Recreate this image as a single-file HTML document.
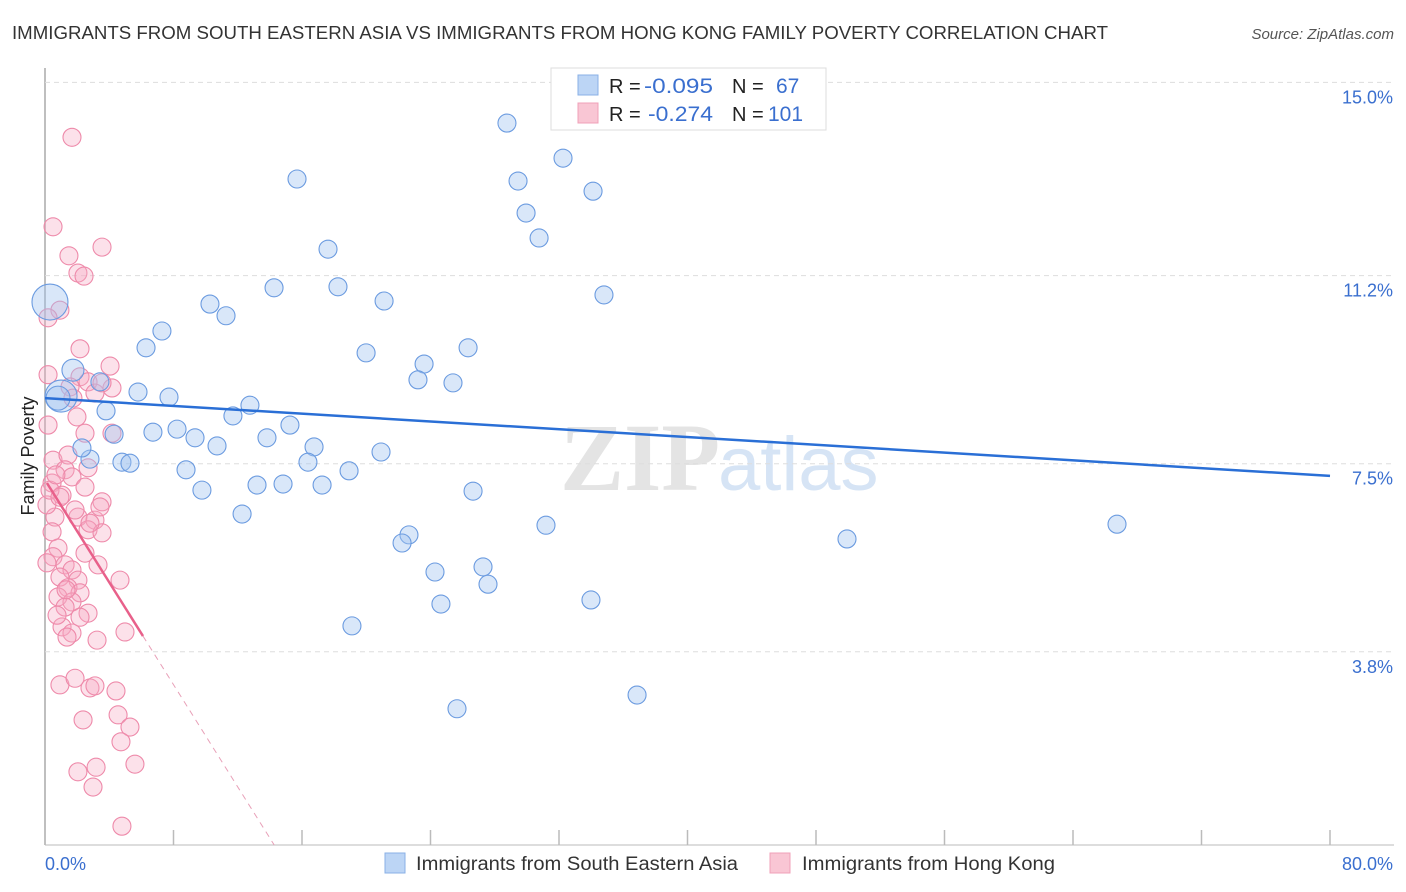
<!DOCTYPE html>
<html><head><meta charset="utf-8"><style>
body{margin:0;background:#fff;font-family:"Liberation Sans",sans-serif}
svg{display:block}
</style></head><body>
<svg id="chart" width="1406" height="892">
<text x="12" y="39" font-size="18" fill="#333" textLength="1096" lengthAdjust="spacingAndGlyphs">IMMIGRANTS FROM SOUTH EASTERN ASIA VS IMMIGRANTS FROM HONG KONG FAMILY POVERTY CORRELATION CHART</text>
<text x="1394" y="39" font-size="15" font-style="italic" fill="#555" text-anchor="end">Source: ZipAtlas.com</text>
<text x="720" y="490" font-size="96" font-family="Liberation Serif" fill="#e4e4e4" text-anchor="end" font-weight="bold">ZIP</text>
<text x="718" y="490" font-size="76" fill="#d6e4f5">atlas</text>
<text transform="translate(34,456) rotate(-90)" font-size="18" fill="#222" text-anchor="middle">Family Poverty</text>
<g id="grid"></g><g id="pts"></g><g id="trend"></g>
<g>
<rect x="551" y="68" width="275" height="62" fill="#fff" stroke="#ddd"/>
<rect x="578" y="75" width="20" height="20" fill="#bcd5f5" stroke="#8ab0e6"/>
<rect x="578" y="103" width="20" height="20" fill="#f9c6d4" stroke="#f0a0b8"/>
<text x="609" y="93" font-size="20" fill="#222">R =</text><text x="644" y="93" font-size="21" fill="#3a6fcf" textLength="69" lengthAdjust="spacingAndGlyphs">-0.095</text>
<text x="732" y="93" font-size="20" fill="#222">N =</text><text x="776" y="93" font-size="21" fill="#3a6fcf">67</text>
<text x="609" y="121" font-size="20" fill="#222">R =</text><text x="648" y="121" font-size="21" fill="#3a6fcf" textLength="65" lengthAdjust="spacingAndGlyphs">-0.274</text>
<text x="732" y="121" font-size="20" fill="#222">N =</text><text x="768" y="121" font-size="21" fill="#3a6fcf">101</text>
</g>
<g>
<rect x="385" y="853" width="20" height="20" fill="#bcd5f5" stroke="#8ab0e6"/>
<text x="416" y="870" font-size="19" fill="#333" textLength="322" lengthAdjust="spacingAndGlyphs">Immigrants from South Eastern Asia</text>
<rect x="770" y="853" width="20" height="20" fill="#f9c6d4" stroke="#f0a0b8"/>
<text x="802" y="870" font-size="19" fill="#333" textLength="253" lengthAdjust="spacingAndGlyphs">Immigrants from Hong Kong</text>
</g>
</svg>
<script>
const yTicks=[15.0,11.2,7.5,3.8];
const yTickLabels=["15.0%","11.2%","7.5%","3.8%"];
const xTickLabels=["0.0%","80.0%"];
const blueX=[28.76,32.25,15.69,29.45,34.12,29.95,30.76,17.62,14.26,18.24,10.27,21.11,34.80,11.27,7.28,6.29,19.99,26.34,23.60,23.22,25.40,5.79,7.72,12.76,3.80,11.70,15.25,6.72,8.22,4.30,9.34,13.82,10.71,16.75,20.92,2.80,4.79,5.29,16.37,8.78,18.93,9.77,13.20,14.82,17.25,26.65,12.27,31.19,22.66,22.23,49.93,66.74,24.28,27.27,27.58,24.65,33.99,19.11,36.86,25.65,2.30,1.74,3.42,1.00,0.31,0.81];
const blueY=[14.20,13.51,13.10,13.06,12.86,12.43,11.94,11.72,10.96,10.98,10.64,10.70,10.82,10.41,10.11,9.78,9.68,9.78,9.46,9.15,9.09,8.91,8.81,8.65,8.54,8.44,8.26,8.12,8.18,8.08,8.01,8.01,7.85,7.83,7.73,7.59,7.53,7.51,7.53,7.38,7.36,6.98,7.08,7.10,7.08,6.96,6.51,6.29,6.10,5.94,6.02,6.31,5.37,5.47,5.13,4.74,4.82,4.31,2.95,2.68,7.81,9.34,9.11,8.83,10.68,8.79];
const blueR=[9,9,9,9,9,9,9,9,9,9,9,9,9,9,9,9,9,9,9,9,9,9,9,9,9,9,9,9,9,9,9,9,9,9,9,9,9,9,9,9,9,9,9,9,9,9,9,9,9,9,9,9,9,9,9,9,9,9,9,9,9,11,9,16,18,12];
const pinkX=[1.68,0.50,3.55,1.49,2.05,2.43,0.93,0.19,2.18,4.05,0.19,2.18,2.68,1.56,4.17,3.11,3.55,1.74,1.99,0.19,2.49,4.17,0.50,1.43,1.25,2.68,0.44,1.06,1.68,2.49,3.55,0.62,2.05,3.11,2.68,3.55,0.44,0.81,0.50,2.49,1.25,3.30,1.68,4.67,0.93,2.05,1.43,2.18,0.81,1.68,1.25,2.68,2.18,1.06,1.68,1.37,3.24,4.98,0.93,1.87,2.80,3.11,4.42,2.37,4.55,5.29,4.73,2.05,3.18,5.60,2.99,4.79,0.12,0.31,0.68,0.93,1.31,0.75,2.80,1.87,3.42,0.12];
const pinkY=[13.92,12.16,11.76,11.59,11.25,11.19,10.52,10.37,9.76,9.42,9.25,9.21,9.11,9.01,8.99,8.89,9.09,8.79,8.42,8.26,8.10,8.10,7.57,7.67,7.38,7.42,7.12,6.88,7.24,7.04,6.75,6.45,6.45,6.39,6.20,6.14,6.16,5.84,5.67,5.74,5.51,5.51,5.41,5.21,5.27,5.21,5.06,4.96,4.88,4.78,4.68,4.56,4.48,4.29,4.17,4.09,4.03,4.19,3.15,3.28,3.09,3.13,3.03,2.46,2.56,2.32,2.03,1.44,1.53,1.59,1.14,0.37,6.69,6.98,7.28,6.84,5.02,4.52,6.33,6.59,6.65,5.55];
const blueTrend=[[0,8.79],[80,7.26]];
const pinkTrend=[[0.12,7.12],[6.10,4.11]];
const pinkDash=[[6.10,4.11],[14.27,0]];
const NS="http://www.w3.org/2000/svg";
const X0=45,X1=1330,YB=845,PXY=50.84;
function sx(v){return X0+v*(X1-X0)/80;}
function sy(v){return YB-v*PXY;}
function mk(t,a,p){const e=document.createElementNS(NS,t);for(const k in a)e.setAttribute(k,a[k]);p.appendChild(e);return e;}
const grid=document.getElementById('grid');
mk('line',{x1:45,y1:68,x2:45,y2:845,stroke:'#aaa','stroke-width':1.5},grid);
mk('line',{x1:45,y1:845,x2:1394,y2:845,stroke:'#bbb'},grid);
for(let i=0;i<=10;i++){const l=mk('line',{x1:sx(i*8),y1:830,x2:sx(i*8),y2:845,stroke:'#bbb','stroke-width':1.5},grid);

}
yTicks.forEach((v,i)=>{const l=mk('line',{x1:45,y1:sy(v),x2:1394,y2:sy(v),stroke:'#ddd','stroke-dasharray':'5,4'},grid);


const t=mk('text',{x:1393,y:sy(v)+21,'font-size':18,fill:'#3a6fcf','text-anchor':'end'},grid);t.textContent=yTickLabels[i];

});
const t0=mk('text',{x:45,y:870,'font-size':18,fill:'#3a6fcf'},grid);t0.textContent=xTickLabels[0];


const t1=mk('text',{x:1393,y:870,'font-size':18,fill:'#3a6fcf','text-anchor':'end'},grid);t1.textContent=xTickLabels[1];


const pts=document.getElementById('pts');
pinkX.forEach((v,i)=>{const c=mk('circle',{cx:sx(v),cy:sy(pinkY[i]),r:9,fill:'rgba(246,170,195,0.35)',stroke:'#ee8aaa','stroke-width':1.1},pts);

});
blueX.forEach((v,i)=>{const c=mk('circle',{cx:sx(v),cy:sy(blueY[i]),r:blueR[i],fill:'rgba(160,195,240,0.4)',stroke:'#6b9be0','stroke-width':1.1},pts);

});
const tr=document.getElementById('trend');
const bl=mk('line',{x1:sx(blueTrend[0][0]),y1:sy(blueTrend[0][1]),x2:sx(blueTrend[1][0]),y2:sy(blueTrend[1][1]),stroke:'#2a6fd6','stroke-width':2.5},tr);


const pl=mk('line',{x1:sx(pinkTrend[0][0]),y1:sy(pinkTrend[0][1]),x2:sx(pinkTrend[1][0]),y2:sy(pinkTrend[1][1]),stroke:'#e8608a','stroke-width':2.5},tr);


const pd=mk('line',{x1:sx(pinkDash[0][0]),y1:sy(pinkDash[0][1]),x2:sx(pinkDash[1][0]),y2:sy(pinkDash[1][1]),stroke:'#e8a0b8','stroke-width':1,'stroke-dasharray':'6,5'},tr);


</script>
</body></html>
